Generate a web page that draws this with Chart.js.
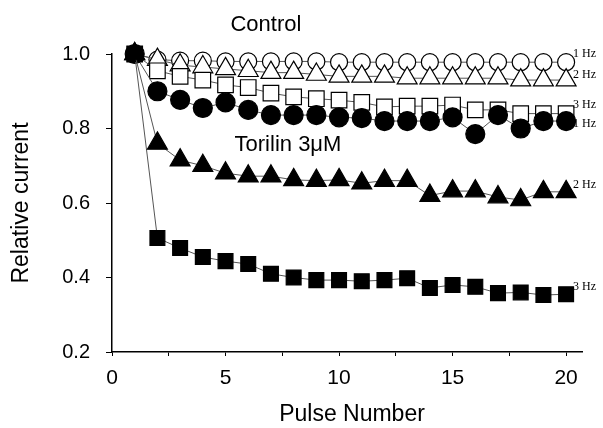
<!DOCTYPE html>
<html>
<head>
<meta charset="utf-8">
<script src="https://cdn.jsdelivr.net/npm/chart.js@4/dist/chart.umd.min.js"></script>
<style>
  html, body { margin: 0; background: #fff; }
</style>
</head>
<body>
<canvas id="chart" width="603" height="428"></canvas>
<script>
const pulses = [1, 2, 3, 4, 5, 6, 7, 8, 9, 10, 11, 12, 13, 14, 15, 16, 17, 18, 19, 20];

// Control
const control1Hz = [1, 0.985, 0.982, 0.982, 0.98, 0.98, 0.98, 0.98, 0.98, 0.978, 0.978, 0.978, 0.978, 0.978, 0.978, 0.978, 0.978, 0.978, 0.978, 0.978];
const control2Hz = [1, 0.985, 0.97, 0.965, 0.96, 0.955, 0.95, 0.95, 0.945, 0.94, 0.94, 0.94, 0.935, 0.935, 0.935, 0.935, 0.935, 0.93, 0.93, 0.93];
const control3Hz = [1, 0.955, 0.94, 0.93, 0.917, 0.91, 0.895, 0.885, 0.88, 0.876, 0.87, 0.858, 0.86, 0.86, 0.863, 0.85, 0.85, 0.84, 0.84, 0.84];

// Torilin 3 µM
const torilin1Hz = [1, 0.9, 0.877, 0.855, 0.87, 0.85, 0.836, 0.836, 0.836, 0.83, 0.828, 0.82, 0.82, 0.82, 0.83, 0.785, 0.836, 0.8, 0.82, 0.82];
const torilin2Hz = [1, 0.76, 0.715, 0.7, 0.68, 0.672, 0.672, 0.662, 0.66, 0.662, 0.653, 0.66, 0.66, 0.62, 0.632, 0.632, 0.616, 0.608, 0.63, 0.63];
const torilin3Hz = [1, 0.506, 0.479, 0.455, 0.444, 0.436, 0.41, 0.4, 0.393, 0.393, 0.39, 0.393, 0.398, 0.372, 0.38, 0.375, 0.358, 0.36, 0.353, 0.355];

const yTicks = [0.2, 0.4, 0.6, 0.8, 1.0];

// frequency labels at the right end of each curve (y in data units)
const hzLabels = ['1 Hz', '2 Hz', '3 Hz', '1 Hz', '2 Hz', '3 Hz'];
const hzLabelY = [1.0, 0.944, 0.863, 0.812, 0.648, 0.374];

const sansFont = "'Liberation Sans', Arial, sans-serif";

function series(values, style, fill, radius, order) {
  return {
    data: pulses.map((p, i) => ({ x: p, y: values[i] })),
    pointStyle: style,
    pointRadius: radius,
    pointHoverRadius: radius,
    pointBackgroundColor: fill,
    pointBorderColor: '#000',
    pointBorderWidth: 1.2,
    borderColor: '#555',
    borderWidth: 1,
    showLine: true,
    fill: false,
    clip: false,
    order: order
  };
}

// annotations + axis titles
const textPlugin = {
  id: 'textPlugin',
  afterDraw(chart) {
    const { ctx, chartArea, scales: { x, y } } = chart;
    ctx.save();
    ctx.fillStyle = '#000';
    ctx.textBaseline = 'middle';

    ctx.textAlign = 'left';
    ctx.font = "12px 'Liberation Serif', 'Times New Roman', serif";
    const xr = x.getPixelForValue(20) + 7;
    hzLabels.forEach((t, i) => ctx.fillText(t, xr, y.getPixelForValue(hzLabelY[i])));

    ctx.textAlign = 'center';
    ctx.font = '22px ' + sansFont;
    ctx.fillText('Control', x.getPixelForValue(6.78), y.getPixelForValue(1.078));
    ctx.fillText('Torilin 3\u03BCM', x.getPixelForValue(7.75), y.getPixelForValue(0.755));

    ctx.font = '23px ' + sansFont;
    ctx.fillText('Pulse Number', (chartArea.left + chartArea.right) / 2 + 5, chart.height - 13);
    ctx.translate(22, (chartArea.top + chartArea.bottom) / 2);
    ctx.rotate(-Math.PI / 2);
    ctx.fillText('Relative current', 0, 0);
    ctx.restore();
  }
};

new Chart(document.getElementById('chart'), {
  type: 'scatter',
  data: {
    datasets: [
      series(control1Hz, 'circle', '#fff', 8.5, 6),
      series(control2Hz, 'triangle', '#fff', 11.5, 5),
      series(control3Hz, 'rect', '#fff', 11, 4),
      series(torilin1Hz, 'circle', '#000', 9.5, 3),
      series(torilin3Hz, 'rect', '#000', 10.5, 2),
      series(torilin2Hz, 'triangle', '#000', 11.5, 1)
    ]
  },
  options: {
    responsive: false,
    animation: false,
    layout: { padding: { top: 54, right: 21, left: 0, bottom: 0 } },
    plugins: {
      legend: { display: false },
      tooltip: { enabled: false }
    },
    scales: {
      x: {
        type: 'linear',
        min: 0,
        max: 20.7,
        afterFit(scale) { scale.height = 76; },
        border: { color: '#000', width: 1.5 },
        grid: { drawOnChartArea: false, color: '#000', tickLength: 4 },
        ticks: {
          stepSize: 2.5,
          includeBounds: false,
          autoSkip: false,
          maxRotation: 0,
          padding: 10,
          color: '#000',
          font: { family: sansFont, size: 21 },
          callback: v => (v % 5 === 0 ? String(v) : '')
        }
      },
      y: {
        min: 0.2,
        max: 1.0,
        afterFit(scale) { scale.width = 112; },
        afterBuildTicks(scale) { scale.ticks = yTicks.map(v => ({ value: v })); },
        border: { color: '#000', width: 1.5 },
        grid: { drawOnChartArea: false, color: '#000', tickLength: 6 },
        ticks: {
          padding: 16,
          color: '#000',
          font: { family: sansFont, size: 20 },
          callback: v => Number(v).toFixed(1)
        }
      }
    }
  },
  plugins: [textPlugin]
});
</script>
</body>
</html>
